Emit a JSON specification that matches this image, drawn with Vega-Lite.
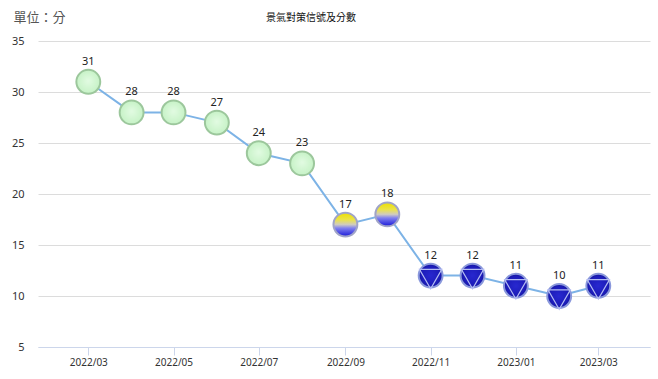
{
  "$schema": "https://vega.github.io/schema/vega-lite/v6.json",
  "autosize": {"type": "none"},
  "width": 612,
  "height": 306,
  "padding": {"left": 38, "top": 41, "right": 8, "bottom": 32},
  "title": {
    "text": "景氣對策信號及分數",
    "font": "Noto Sans CJK TC",
    "fontSize": 10,
    "fontWeight": "normal",
    "color": "#111",
    "anchor": "middle",
    "frame": "group",
    "dx": -33,
    "offset": -12
  },
  "config": {
    "view": {"stroke": null},
    "font": "Noto Sans CJK TC"
  },
  "data": {
    "values": [
      {"month": "2022-03-01", "score": 31, "signal": "綠燈"},
      {"month": "2022-04-01", "score": 28, "signal": "綠燈"},
      {"month": "2022-05-01", "score": 28, "signal": "綠燈"},
      {"month": "2022-06-01", "score": 27, "signal": "綠燈"},
      {"month": "2022-07-01", "score": 24, "signal": "綠燈"},
      {"month": "2022-08-01", "score": 23, "signal": "綠燈"},
      {"month": "2022-09-01", "score": 17, "signal": "黃藍燈"},
      {"month": "2022-10-01", "score": 18, "signal": "黃藍燈"},
      {"month": "2022-11-01", "score": 12, "signal": "藍燈"},
      {"month": "2022-12-01", "score": 12, "signal": "藍燈"},
      {"month": "2023-01-01", "score": 11, "signal": "藍燈"},
      {"month": "2023-02-01", "score": 10, "signal": "藍燈"},
      {"month": "2023-03-01", "score": 11, "signal": "藍燈"}
    ]
  },
  "encoding": {
    "x": {
      "field": "month",
      "type": "temporal",
      "scale": {
        "type": "utc",
        "domain": [
          {"year": 2022, "month": 1, "date": 24, "utc": true},
          {"year": 2023, "month": 4, "date": 7, "utc": true}
        ]
      },
      "axis": {
        "title": null,
        "format": "%Y/%m",
        "values": [
          {"year": 2022, "month": 3, "date": 1, "utc": true},
          {"year": 2022, "month": 5, "date": 1, "utc": true},
          {"year": 2022, "month": 7, "date": 1, "utc": true},
          {"year": 2022, "month": 9, "date": 1, "utc": true},
          {"year": 2022, "month": 11, "date": 1, "utc": true},
          {"year": 2023, "month": 1, "date": 1, "utc": true},
          {"year": 2023, "month": 3, "date": 1, "utc": true}
        ],
        "grid": false,
        "domainColor": "#ccd6eb",
        "tickColor": "#ccd6eb",
        "tickSize": 8,
        "labelPadding": 2,
        "labelFontSize": 10,
        "labelColor": "#333",
        "labelFont": "Noto Sans"
      }
    },
    "y": {
      "field": "score",
      "type": "quantitative",
      "scale": {"domain": [5, 35], "nice": false, "zero": false},
      "axis": {
        "values": [5, 10, 15, 20, 25, 30, 35],
        "title": "單位：分",
        "titleAngle": 0,
        "titleX": -25,
        "titleY": -24,
        "titleAlign": "left",
        "titleBaseline": "middle",
        "titleFontSize": 13,
        "titleFontWeight": "normal",
        "titleColor": "#555",
        "titleFont": "Noto Sans CJK TC",
        "domain": false,
        "ticks": false,
        "gridColor": "#dcdcdc",
        "labelPadding": 14,
        "labelFontSize": 11,
        "labelColor": "#333",
        "labelFont": "Noto Sans"
      }
    }
  },
  "layer": [
    {
      "mark": {"type": "line", "color": "#7db3e6", "strokeWidth": 2}
    },
    {
      "transform": [{"filter": "datum.signal === '綠燈'"}],
      "mark": {
        "type": "point",
        "shape": "circle",
        "size": 570,
        "filled": true,
        "opacity": 1,
        "fill": {
          "gradient": "radial",
          "x1": 0.5, "y1": 0.45, "r1": 0,
          "x2": 0.5, "y2": 0.5, "r2": 0.5,
          "stops": [
            {"offset": 0, "color": "#e2fbe2"},
            {"offset": 1, "color": "#c6f2c6"}
          ]
        },
        "stroke": "#9cc79c",
        "strokeWidth": 2
      }
    },
    {
      "transform": [{"filter": "datum.signal === '黃藍燈'"}],
      "mark": {
        "type": "point",
        "shape": "circle",
        "size": 570,
        "filled": true,
        "opacity": 1,
        "fill": {
          "gradient": "linear",
          "x1": 0, "y1": 0, "x2": 0, "y2": 1,
          "stops": [
            {"offset": 0, "color": "#ecdf00"},
            {"offset": 0.3, "color": "#ebe34a"},
            {"offset": 0.5, "color": "#cfcbc0"},
            {"offset": 0.65, "color": "#8080f0"},
            {"offset": 1, "color": "#1818d8"}
          ]
        },
        "stroke": "#a0a4c8",
        "strokeWidth": 2
      }
    },
    {
      "transform": [{"filter": "datum.signal === '藍燈'"}],
      "mark": {
        "type": "point",
        "shape": "circle",
        "size": 570,
        "filled": true,
        "opacity": 1,
        "fill": {
          "gradient": "radial",
          "x1": 0.5, "y1": 0.5, "r1": 0,
          "x2": 0.5, "y2": 0.5, "r2": 0.5,
          "stops": [
            {"offset": 0, "color": "#2828d0"},
            {"offset": 0.8, "color": "#1c1cb8"},
            {"offset": 1, "color": "#14149a"}
          ]
        },
        "stroke": "#8a98dc",
        "strokeWidth": 2
      }
    },
    {
      "transform": [{"filter": "datum.signal === '藍燈'"}],
      "mark": {
        "type": "point",
        "shape": "triangle-down",
        "size": 500,
        "filled": false,
        "opacity": 1,
        "stroke": "#b4bcf2",
        "strokeWidth": 1.2
      },
      "encoding": {"yOffset": {"value": 3.5}}
    },
    {
      "mark": {
        "type": "text",
        "dy": -20,
        "fontSize": 11,
        "color": "#222",
        "font": "Noto Sans",
        "baseline": "middle"
      },
      "encoding": {"text": {"field": "score", "type": "quantitative"}}
    }
  ]
}
